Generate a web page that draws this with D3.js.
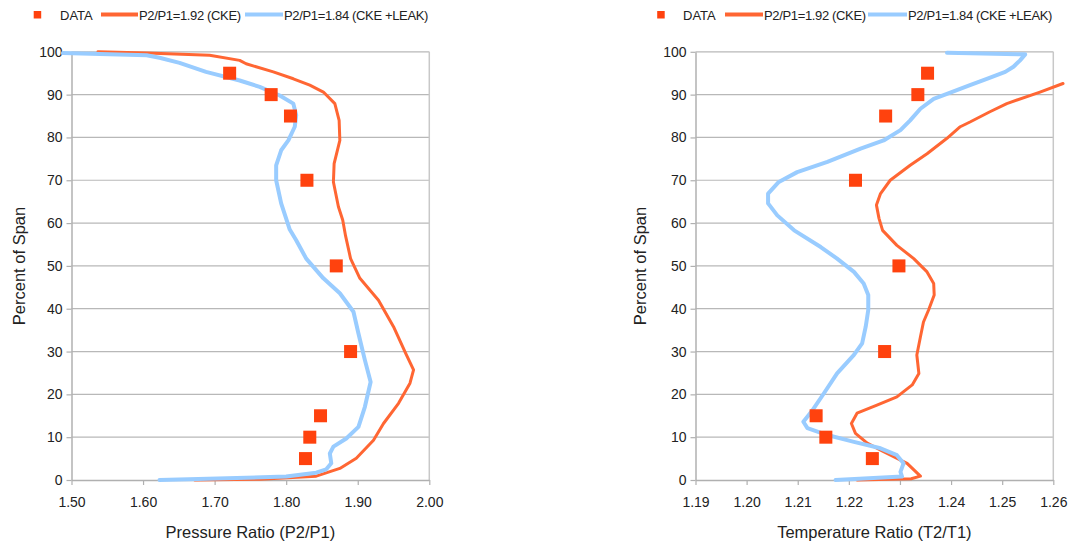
<!DOCTYPE html>
<html><head><meta charset="utf-8">
<script src="https://cdn.jsdelivr.net/npm/d3@7"></script>
<style>
body{margin:0;background:#fff;}
text{font-family:"Liberation Sans",Arial,sans-serif;fill:#222;}
</style></head>
<body><svg id="c" width="1070" height="542"></svg>
<script>
// ---- Data ----
const spanTicks = [0,10,20,30,40,50,60,70,80,90,100];
const prTicks = [1.50,1.60,1.70,1.80,1.90,2.00];
const trTicks = [1.19,1.20,1.21,1.22,1.23,1.24,1.25,1.26];
const legendLabels = ["DATA","P2/P1=1.92 (CKE)","P2/P1=1.84 (CKE +LEAK)"];

// Pressure ratio chart: [value, percent span]
const prData = [[1.721,95],[1.779,90],[1.806,85],[1.829,70],[1.870,50],[1.890,30],[1.848,15],[1.833,10],[1.827,5]];
const prCKE = [[1.537,100],[1.605,99.7],[1.693,99.2],[1.735,98],[1.744,97.2],[1.782,95.3],[1.810,93.7],[1.833,92.2],[1.852,90.6],[1.868,87.9],[1.874,84],[1.875,79.3],[1.867,73.9],[1.866,69.6],[1.873,63.8],[1.879,60.7],[1.883,57],[1.890,51.7],[1.903,47.1],[1.929,42],[1.950,35.8],[1.968,29.2],[1.978,25.7],[1.973,22.6],[1.957,17.9],[1.936,13.2],[1.922,9.3],[1.898,5.1],[1.875,2.7],[1.842,0.9],[1.763,0.2],[1.672,0]];
const prLeak = [[1.488,99.7],[1.605,99.2],[1.623,98.6],[1.651,97.4],[1.688,95.3],[1.735,93.3],[1.763,91.8],[1.791,89.8],[1.810,87.9],[1.814,85.2],[1.812,82.5],[1.803,79.3],[1.793,77],[1.786,73.5],[1.786,70],[1.793,64.6],[1.805,58.5],[1.814,56],[1.828,51.7],[1.852,47.1],[1.875,43.6],[1.894,39.3],[1.901,34.2],[1.910,28],[1.918,22.9],[1.910,17.1],[1.901,12.4],[1.884,9.7],[1.866,7.8],[1.861,6.2],[1.863,3.9],[1.856,2.5],[1.842,1.7],[1.800,0.8],[1.623,0]];

// Temperature ratio chart
const trData = [[1.2354,95],[1.2335,90],[1.2272,85],[1.2213,70],[1.2298,50],[1.2270,30],[1.2136,15],[1.2155,10],[1.2246,5]];
const trCKE = [[1.2619,92.6],[1.2574,90.6],[1.2509,87.9],[1.2476,86],[1.2437,83.6],[1.2418,82.5],[1.2392,79.8],[1.2353,76.2],[1.2320,73.5],[1.2281,70],[1.2262,66.9],[1.2254,64.2],[1.2259,61.1],[1.2266,58.3],[1.2294,54.8],[1.2327,51.7],[1.2353,48.6],[1.2366,45.9],[1.2367,43.2],[1.2356,39.7],[1.2346,36.9],[1.2340,33.4],[1.2333,29.2],[1.2337,24.9],[1.2324,22.2],[1.2294,19.4],[1.2255,17.5],[1.2216,15.6],[1.2205,13.2],[1.2213,10.9],[1.2236,8.6],[1.2268,6.6],[1.2314,3.9],[1.2340,0.9],[1.2322,0.3],[1.2216,0]];
const trLeak = [[1.2392,99.8],[1.2545,99.4],[1.2535,98],[1.2522,96.5],[1.2506,95.3],[1.2470,93.7],[1.2437,92.2],[1.2392,90.2],[1.2366,89],[1.2340,86.7],[1.2320,84],[1.2301,81.7],[1.2268,79.3],[1.2223,77.4],[1.2158,74.3],[1.2099,71.9],[1.2063,69.6],[1.2042,66.9],[1.2042,64.6],[1.2060,61.8],[1.2093,58.3],[1.2145,54.4],[1.2177,51.7],[1.2210,48.6],[1.2229,45.9],[1.2238,43.2],[1.2238,39.7],[1.2233,35.8],[1.2226,31.9],[1.2210,29.2],[1.2177,24.9],[1.2151,20.2],[1.2129,16.3],[1.2111,13.6],[1.2119,12.1],[1.2158,10.5],[1.2210,8.9],[1.2262,7.4],[1.2294,5.8],[1.2307,3.9],[1.2301,1.9],[1.2304,0.8],[1.2174,0]];

const cData = "#ff420e", cCKE = "#ff6633", cLeak = "#99ccff", cGrid = "#b8b8b8";
const svg = d3.select("#c");

function chart(o){
  const x = d3.scaleLinear().domain(o.xdom).range([o.x0, o.x1]);
  const y = d3.scaleLinear().domain([0,100]).range([480, 51.8]);
  const g = svg.append("g");
  // gridlines
  g.selectAll("line.grid").data(spanTicks.slice(1)).join("line")
    .attr("x1", o.x0).attr("x2", o.x1).attr("y1", d=>y(d)).attr("y2", d=>y(d))
    .attr("stroke", cGrid).attr("stroke-width",1.2);
  // right border
  g.append("line").attr("x1",o.x1).attr("x2",o.x1).attr("y1",y(100)).attr("y2",y(0))
    .attr("stroke","#c8c8c8").attr("stroke-width",1.5);
  // axes
  const xa = g.append("g").attr("transform","translate(0,480)")
    .call(d3.axisBottom(x).tickValues(o.ticks).tickFormat(d3.format(".2f")).tickSize(5).tickPadding(12).tickSizeOuter(0));
  const ya = g.append("g").attr("transform",`translate(${o.x0},0)`)
    .call(d3.axisLeft(y).tickValues(spanTicks).tickSize(5).tickPadding(4).tickSizeOuter(0));
  [xa,ya].forEach(a=>{
    a.select(".domain").attr("stroke","#b0b0b0").attr("stroke-width",1.5);
    a.selectAll(".tick line").attr("stroke","#b0b0b0").attr("stroke-width",1.2);
    a.selectAll("text").attr("font-size",14).attr("font-family","Liberation Sans, Arial, sans-serif").attr("fill","#222");
  });
  const line = d3.line().x(d=>x(d[0])).y(d=>y(d[1]));
  g.append("path").attr("d", line(o.cke)).attr("fill","none").attr("stroke",cCKE)
    .attr("stroke-width",3).attr("stroke-linejoin","round").attr("stroke-linecap","round");
  g.append("path").attr("d", line(o.leak)).attr("fill","none").attr("stroke",cLeak)
    .attr("stroke-width",4).attr("stroke-linejoin","round").attr("stroke-linecap","round");
  const s = 13;
  g.selectAll("rect.pt").data(o.data).join("rect")
    .attr("x", d=>x(d[0])-s/2).attr("y", d=>y(d[1])-s/2).attr("width",s).attr("height",s)
    .attr("fill",cData);
  // titles
  g.append("text").attr("x",(o.x0+o.x1)/2).attr("y",538).attr("text-anchor","middle")
    .attr("font-size",16.5).text(o.xtitle);
  g.append("text").attr("transform",`translate(${o.ytx},266) rotate(-90)`).attr("text-anchor","middle")
    .attr("dy","0.35em").attr("font-size",16.5).text("Percent of Span");
  // legend
  const L = o.leg;
  g.append("rect").attr("x",L.sq-3.8).attr("y",11).attr("width",7.5).attr("height",7.5).attr("fill",cData);
  g.append("text").attr("x",L.t0).attr("y",19.5).attr("font-size",13).text(legendLabels[0]);
  g.append("line").attr("x1",L.l1[0]).attr("x2",L.l1[1]).attr("y1",14.5).attr("y2",14.5).attr("stroke",cCKE).attr("stroke-width",4);
  g.append("text").attr("x",L.l1[1]+1).attr("y",19.5).attr("font-size",13).attr("letter-spacing","-0.35").text(legendLabels[1]);
  g.append("line").attr("x1",L.l2[0]).attr("x2",L.l2[1]).attr("y1",14.5).attr("y2",14.5).attr("stroke",cLeak).attr("stroke-width",4);
  g.append("text").attr("x",L.l2[1]+1).attr("y",19.5).attr("font-size",13).attr("letter-spacing","-0.35").text(legendLabels[2]);
}

chart({xdom:[1.5,2.0], x0:71.5, x1:429.3, ticks:prTicks, data:prData, cke:prCKE, leak:prLeak,
  xtitle:"Pressure Ratio (P2/P1)", ytx:19, leg:{sq:37.5,t0:60,l1:[101,138],l2:[245,283]}});
chart({xdom:[1.19,1.26], x0:695.5, x1:1053.3, ticks:trTicks, data:trData, cke:trCKE, leak:trLeak,
  xtitle:"Temperature Ratio (T2/T1)", ytx:640.5, leg:{sq:661,t0:683,l1:[725,763],l2:[868,907]}});
</script></body></html>
